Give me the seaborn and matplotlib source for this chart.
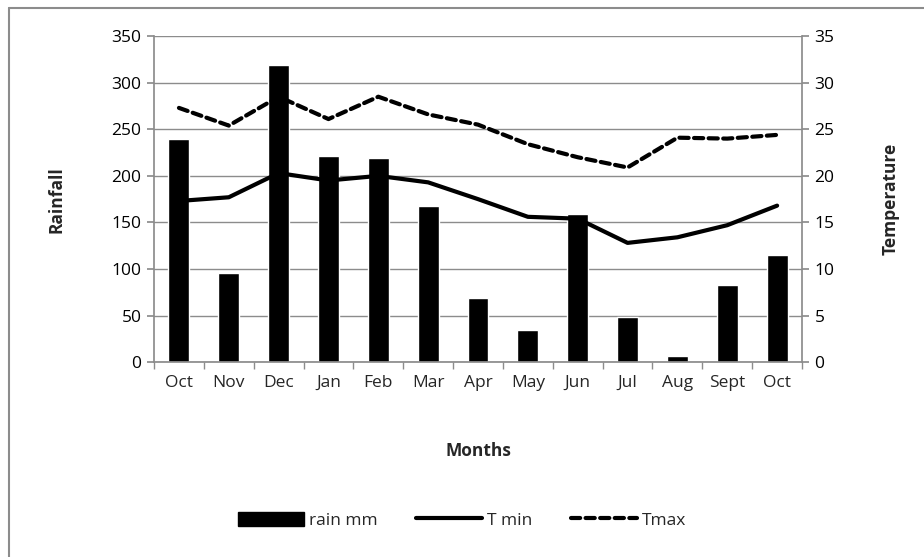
import numpy as np
import pandas as pd
import matplotlib
matplotlib.use("Agg")
import matplotlib.pyplot as plt
from matplotlib.lines import Line2D
from matplotlib.patches import Patch
import seaborn as sns

# データ
months = ["Oct", "Nov", "Dec", "Jan", "Feb", "Mar", "Apr", "May", "Jun", "Jul", "Aug", "Sept", "Oct"]
rain_mm = [240, 96, 319, 221, 219, 168, 69, 34, 159, 48, 7, 83, 115]
t_min = [17.3, 17.7, 20.3, 19.5, 20.0, 19.3, 17.5, 15.6, 15.4, 12.8, 13.4, 14.7, 16.8]
t_max = [27.3, 25.4, 28.5, 26.1, 28.5, 26.6, 25.5, 23.4, 22.0, 20.9, 24.1, 24.0, 24.4]

df = pd.DataFrame({"idx": range(len(months)), "month": months,
                   "rain": rain_mm, "tmin": t_min, "tmax": t_max})

sns.set_theme(style="white")
plt.rcParams["font.family"] = ["Open Sans", "DejaVu Sans"]
grey = "#8c8c8c"
fs = 12.5

fig = plt.figure(figsize=(9.24, 5.57), dpi=100)
ax = fig.add_axes([0.1667, 0.350, 0.7013, 0.585])

# 降水量の棒グラフ
sns.barplot(data=df, x="idx", y="rain", color="black", width=0.42,
            saturation=1, ax=ax, zorder=2)
ax.set_ylim(0, 350)
ax.set_yticks(np.arange(0, 351, 50))
ax.set_xlim(-0.5, len(months) - 0.5)
ax.grid(axis="y", color=grey, linewidth=1, zorder=0)
ax.set_axisbelow(True)

# 気温の折れ線
ax2 = ax.twinx()
sns.lineplot(data=df, x="idx", y="tmin", color="black", linewidth=3, ax=ax2)
sns.lineplot(data=df, x="idx", y="tmax", color="black", linewidth=3, ax=ax2,
             linestyle=(0, (2.2, 1.3)), dash_capstyle="round")
ax2.set_ylim(0, 35)
ax2.set_yticks(np.arange(0, 36, 5))
ax2.set_xlim(-0.5, len(months) - 0.5)

# 軸の体裁
for a in (ax, ax2):
    for s in a.spines.values():
        s.set_visible(False)
    a.tick_params(axis="y", labelsize=fs, colors="black", length=5,
                  color=grey, direction="out", pad=4)
ax.spines["left"].set_visible(True)
ax.spines["left"].set_color(grey)
ax.spines["bottom"].set_visible(True)
ax.spines["bottom"].set_color(grey)
ax2.spines["right"].set_visible(True)
ax2.spines["right"].set_color(grey)
ax.tick_params(axis="y", left=True)
ax2.tick_params(axis="y", right=True)

ax.set_xticks(range(len(months)))
ax.set_xticklabels(months)
ax.set_xticks(np.arange(-0.5, len(months), 1), minor=True)
ax.tick_params(axis="x", which="major", length=0, labelsize=fs, pad=9)
ax.tick_params(axis="x", which="minor", length=5, color=grey, direction="out", bottom=True)

ax.set_xlabel("Months", fontsize=fs, fontweight="bold", labelpad=37)
ax.set_ylabel("Rainfall", fontsize=fs, fontweight="bold")
ax2.set_ylabel("Temperature", fontsize=fs, fontweight="bold")
ax2.set_xlabel("")
ax.yaxis.set_label_coords(-0.136, 0.5)
ax2.yaxis.set_label_coords(1.1235, 0.5)

# 凡例
handles = [Patch(facecolor="black", edgecolor="black"),
           Line2D([0], [0], color="black", linewidth=3),
           Line2D([0], [0], color="black", linewidth=3, linestyle=(0, (2.2, 1.3)),
                  dash_capstyle="round")]
fig.legend(handles, ["rain mm", "T min", "Tmax"], loc="center",
           bbox_to_anchor=(0.5, 0.066), ncol=3, frameon=False, fontsize=fs,
           handlelength=3.8, handleheight=0.9, handletextpad=0.3, columnspacing=2.2)

# 外枠（上と左のみ見えている）
x0, y0 = 8.5 / 924, 1 - 7.5 / 557
fig.add_artist(Line2D([x0, 1], [y0, y0], transform=fig.transFigure, color=grey, linewidth=1.5))
fig.add_artist(Line2D([x0, x0], [0, y0], transform=fig.transFigure, color=grey, linewidth=1.5))

fig.savefig("out.png", dpi=100)
